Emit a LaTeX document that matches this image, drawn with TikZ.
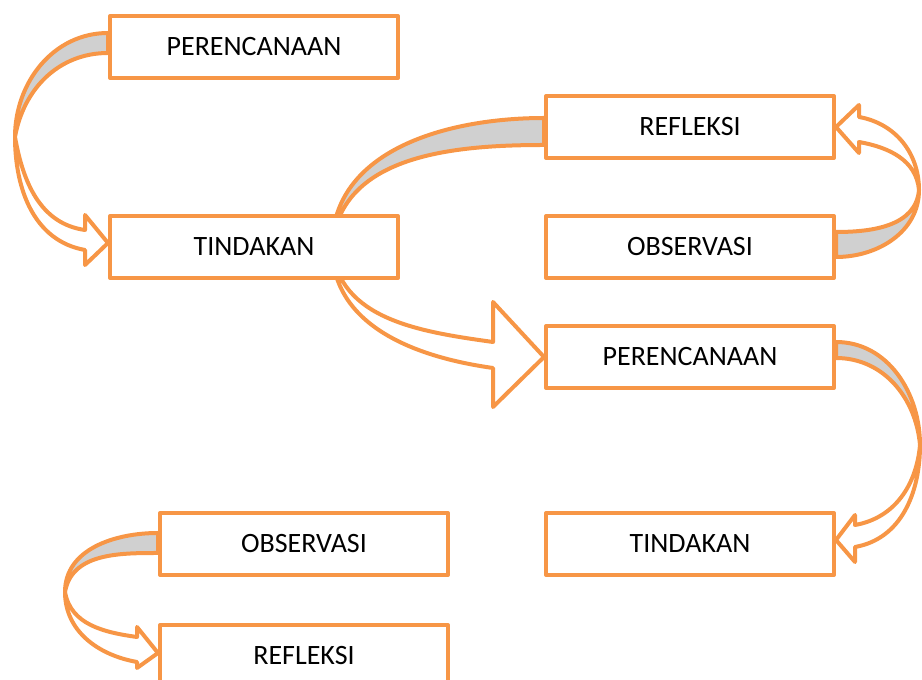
\documentclass[tikz,border=0pt]{standalone}
\usepackage{fontspec}
\setmainfont{Carlito}
\usetikzlibrary{backgrounds}
\definecolor{boxorange}{RGB}{247,150,70}
\definecolor{bandgray}{RGB}{208,208,208}

\begin{document}
\begin{tikzpicture}[x=1pt, y=1pt,
    stage/.style={draw=boxorange, line width=4pt, fill=white, line join=round,
        minimum width=288pt, minimum height=62pt, inner sep=0pt,
        font=\fontsize{28}{34}\selectfont},
    backband/.style={draw=boxorange, line width=4pt, fill=bandgray, line join=round},
    frontband/.style={draw=boxorange, line width=4pt, fill=white, line join=round}]
    \useasboundingbox (0,0) rectangle (922,680);

    % Stages
    \node[stage] (p1) at (254,633) {PERENCANAAN};
    \node[stage] (t1) at (254,433) {TINDAKAN};
    \node[stage] (r1) at (690,553) {REFLEKSI};
    \node[stage] (o1) at (690,433) {OBSERVASI};
    \node[stage] (p2) at (690,323) {PERENCANAAN};
    \node[stage] (t2) at (690,136) {TINDAKAN};
    \node[stage] (o2) at (304,136) {OBSERVASI};
    \node[stage] (r2) at (304,24) {REFLEKSI};

    % Curved arrows (behind the stages)
    \begin{scope}[on background layer]
    % perencanaan -> tindakan
    \filldraw[backband] ([yshift=14pt]p1.west) to[out=180,in=90] (15,543)
        to[out=80,in=180] ([yshift=-6pt]p1.west) -- cycle;
    \filldraw[frontband] (15,543) to[out=-90,in=170] (85,430) -- (85,415)
        -- ([yshift=4pt]t1.west) -- (85,465) -- (85,450) to[out=172,in=-80] (15,543) -- cycle;

    % refleksi -> perencanaan (passes behind tindakan)
    \filldraw[backband] ([yshift=9pt]r1.west) to[out=180,in=90] (332,433)
        to[out=85,in=180] ([yshift=-18pt]r1.west) -- cycle;
    \filldraw[frontband] (332,433) to[out=-90,in=172] (493,312) -- (493,273)
        -- (p2.west) -- (493,378) -- (493,338) to[out=172,in=-85] (332,433) -- cycle;

    % observasi -> refleksi
    \filldraw[backband] ([yshift=-10pt]o1.east) to[out=0,in=-90] (919,490)
        to[out=-95,in=0] ([yshift=15pt]o1.east) -- cycle;
    \filldraw[frontband] (919,490) to[out=90,in=-10] (859,563) -- (859,575)
        -- (r1.east) -- (859,527) -- (859,538) to[out=-10,in=95] (919,490) -- cycle;

    % perencanaan -> tindakan
    \filldraw[backband] ([yshift=15pt]p2.east) to[out=0,in=90] (920,235)
        to[out=95,in=0] ([yshift=-1pt]p2.east) -- cycle;
    \filldraw[frontband] (920,235) to[out=-90,in=10] (855,133) -- (855,118)
        -- ([yshift=4pt]t2.east) -- (855,165) -- (855,155) to[out=10,in=-95] (920,235) -- cycle;

    % observasi -> refleksi
    \filldraw[backband] ([yshift=11pt]o2.west) to[out=180,in=90] (65,88)
        to[out=80,in=180] ([yshift=-9pt]o2.west) -- cycle;
    \filldraw[frontband] (65,88) to[out=-90,in=170] (137,18) -- (137,12)
        -- ([yshift=3pt]r2.west) -- (137,53) -- (137,43) to[out=172,in=-80] (65,88) -- cycle;
    \end{scope}
\end{tikzpicture}
\end{document}
